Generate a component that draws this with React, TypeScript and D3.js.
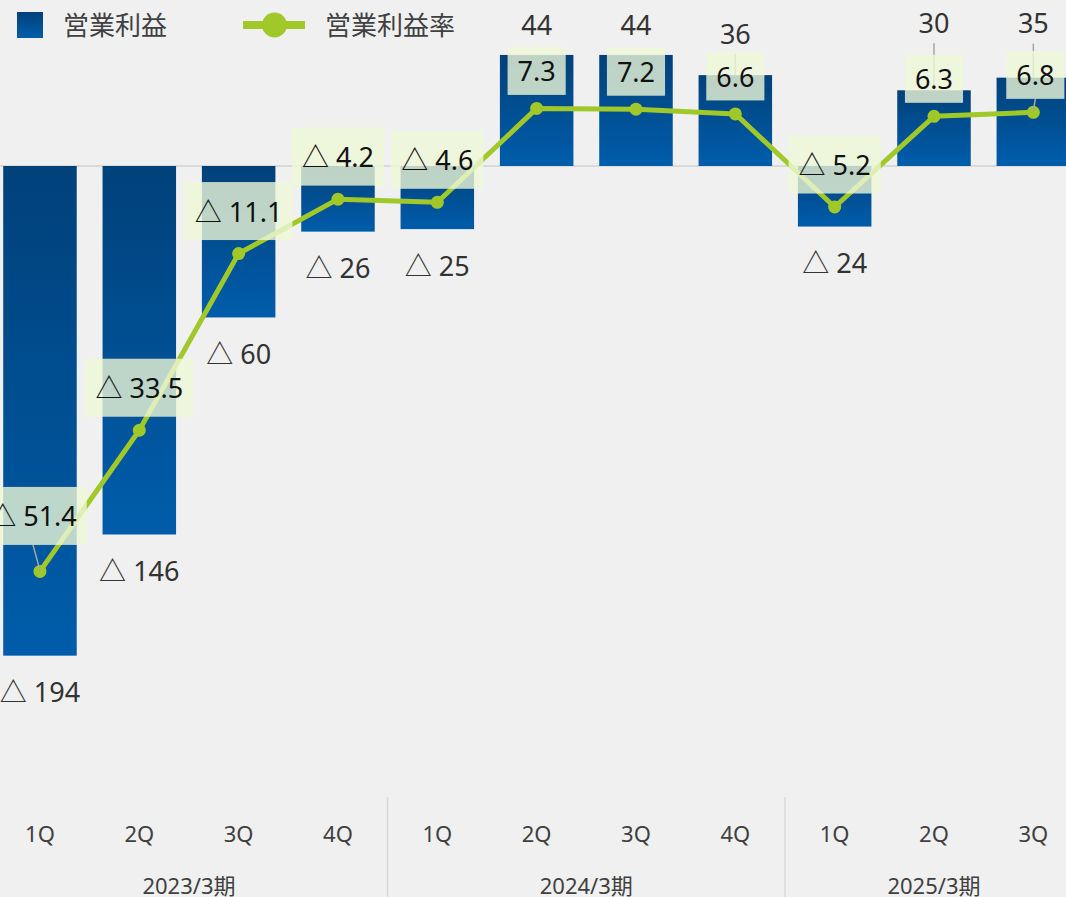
import React, { useEffect, useRef } from 'react';
import * as d3 from 'd3';

const quarters = ['1Q', '2Q', '3Q', '4Q', '1Q', '2Q', '3Q', '4Q', '1Q', '2Q', '3Q'];
const fiscalYears = ['2023/3期', '2024/3期', '2025/3期'];
const yearOfQuarter = [0, 0, 0, 0, 1, 1, 1, 1, 2, 2, 2];
const operatingProfit = [-194, -146, -60, -26, -25, 44, 44, 36, -24, 30, 35];
const operatingMargin = [-51.4, -33.5, -11.1, -4.2, -4.6, 7.3, 7.2, 6.6, -5.2, 6.3, 6.8];
const legendLabels = ['営業利益', '営業利益率'];

// extra lift (px) for profit labels that were pushed up to clear the margin labels
const profitLabelLift = [0, 0, 0, 0, 0, 0, 0, 12, 0, 38, 25];
// nudges (px) for margin labels moved off their default spot
const marginLabelNudge: [number, number][] = [
  [-7, -13], [0, 0], [0, 0], [0, 0], [0, 0], [0, 0], [0, 0], [0, 0], [0, 0], [0, 0], [2, 0],
];

const W = 1066;
const H = 897;
const FONT = "'Noto Sans', 'Noto Sans CJK JP', sans-serif";
const LIME = '#a0c828';

const fmt = (v: number, digits = 0) =>
  v < 0 ? `△ ${Math.abs(v).toFixed(digits)}` : v.toFixed(digits);

export default function App() {
  const ref = useRef<SVGSVGElement>(null);

  useEffect(() => {
    if (!ref.current) return;
    const svg = d3.select(ref.current);
    svg.selectAll('*').remove();

    const idx = d3.range(quarters.length);
    const x = d3.scaleBand<number>()
      .domain(idx)
      .range([-9.7, 1083])
      .paddingInner(0.26)
      .paddingOuter(0.13);
    const cx = (i: number) => (x(i) as number) + x.bandwidth() / 2;

    const plotBottom = 797;
    const yBar = d3.scaleLinear().domain([-250, 50]).range([plotBottom, plotBottom - 300 * 2.524]);
    const yRate = d3.scaleLinear().domain([-80, 20]).range([plotBottom, plotBottom - 100 * 7.8875]);

    const defs = svg.append('defs');
    const grad = defs.append('linearGradient')
      .attr('id', 'barGrad')
      .attr('x1', 0).attr('y1', 0).attr('x2', 0).attr('y2', 1);
    grad.append('stop').attr('offset', '0%').attr('stop-color', '#00417a');
    grad.append('stop').attr('offset', '100%').attr('stop-color', '#005dab');

    svg.append('rect').attr('width', W).attr('height', H).attr('fill', '#f0f0f0');

    // zero line
    svg.append('line')
      .attr('x1', 0).attr('x2', W)
      .attr('y1', yBar(0)).attr('y2', yBar(0))
      .attr('stroke', '#d9d9d9').attr('stroke-width', 2);

    // bars
    svg.selectAll('.bar')
      .data(operatingProfit)
      .enter().append('rect')
      .attr('class', 'bar')
      .attr('x', (d, i) => x(i) as number)
      .attr('width', x.bandwidth())
      .attr('y', d => yBar(Math.max(0, d)))
      .attr('height', d => Math.abs(yBar(d) - yBar(0)))
      .attr('fill', 'url(#barGrad)');

    // profit labels + leader lines
    const profitLabelY = (d: number, i: number) =>
      d < 0 ? yBar(d) + 36 : yBar(d) - 30 - profitLabelLift[i];

    svg.selectAll('.pleader')
      .data(operatingProfit.map((d, i) => ({ d, i })).filter(o => profitLabelLift[o.i] > 0))
      .enter().append('line')
      .attr('x1', o => cx(o.i)).attr('x2', o => cx(o.i))
      .attr('y1', o => profitLabelY(o.d, o.i) + 21)
      .attr('y2', o => yBar(o.d))
      .attr('stroke', '#a6a6a6').attr('stroke-width', 1.5);

    svg.selectAll('.plabel')
      .data(operatingProfit)
      .enter().append('text')
      .attr('x', (d, i) => cx(i))
      .attr('y', (d, i) => profitLabelY(d, i))
      .attr('text-anchor', 'middle')
      .attr('dominant-baseline', 'central')
      .attr('font-family', FONT)
      .attr('font-size', 27)
      .attr('fill', '#333')
      .text(d => fmt(d));

    // margin line
    const line = d3.line<number>()
      .x((d, i) => cx(i))
      .y(d => yRate(d));
    svg.append('path')
      .datum(operatingMargin)
      .attr('d', line)
      .attr('fill', 'none')
      .attr('stroke', LIME)
      .attr('stroke-width', 5)
      .attr('stroke-linejoin', 'round');

    svg.selectAll('.dot')
      .data(operatingMargin)
      .enter().append('circle')
      .attr('cx', (d, i) => cx(i))
      .attr('cy', d => yRate(d))
      .attr('r', 6.5)
      .attr('fill', LIME);

    // margin labels
    const boxes = operatingMargin.map((d, i) => {
      const h = d < 0 ? 58 : 48;
      const [dx, dy] = marginLabelNudge[i];
      return {
        d, i, h,
        x: cx(i) + dx,
        y: yRate(d) - 13.5 - h / 2 + dy,
      };
    });

    // leader lines for nudged margin labels
    boxes.filter(b => b.i === 0 || b.i === 10).forEach(b => {
      svg.append('line')
        .attr('x1', b.x).attr('y1', b.y + b.h / 2)
        .attr('x2', cx(b.i)).attr('y2', yRate(b.d) - 1)
        .attr('stroke', '#a6a6a6').attr('stroke-width', 1.5);
    });

    const mg = svg.selectAll('.mlabel')
      .data(boxes)
      .enter().append('g')
      .attr('class', 'mlabel');

    mg.append('rect')
      .attr('fill', 'rgb(238,247,215)')
      .attr('opacity', 0.8);

    const texts = mg.append('text')
      .attr('x', b => b.x)
      .attr('y', b => b.y)
      .attr('text-anchor', 'middle')
      .attr('dominant-baseline', 'central')
      .attr('font-family', FONT)
      .attr('font-size', 27)
      .attr('fill', '#111')
      .text(b => fmt(b.d, 1));

    texts.each(function (b) {
      const w = (this as SVGTextElement).getComputedTextLength() + 20;
      d3.select((this as SVGTextElement).previousSibling as SVGRectElement)
        .attr('x', b.x - w / 2)
        .attr('y', b.y - b.h / 2)
        .attr('width', w)
        .attr('height', b.h);
    });

    // x axis: quarters
    svg.selectAll('.qlabel')
      .data(quarters)
      .enter().append('text')
      .attr('x', (d, i) => cx(i))
      .attr('y', 833)
      .attr('text-anchor', 'middle')
      .attr('dominant-baseline', 'central')
      .attr('font-family', FONT)
      .attr('font-size', 22)
      .attr('fill', '#404040')
      .text(d => d);

    // fiscal year groups
    const groups = fiscalYears.map((label, g) => {
      const members = idx.filter(i => yearOfQuarter[i] === g);
      return {
        label,
        start: (x(members[0]) as number) - x.step() * 0.13,
        mid: (cx(members[0]) + cx(members[members.length - 1])) / 2,
      };
    });

    svg.selectAll('.sep')
      .data(groups.slice(1))
      .enter().append('line')
      .attr('x1', g => g.start).attr('x2', g => g.start)
      .attr('y1', plotBottom).attr('y2', H)
      .attr('stroke', '#d9d9d9').attr('stroke-width', 1.5);

    svg.selectAll('.ylabel')
      .data(groups)
      .enter().append('text')
      .attr('x', g => g.mid)
      .attr('y', 885)
      .attr('text-anchor', 'middle')
      .attr('dominant-baseline', 'central')
      .attr('font-family', FONT)
      .attr('font-size', 22)
      .attr('fill', '#404040')
      .text(g => g.label);

    // legend
    const lg = svg.append('g');
    lg.append('rect')
      .attr('x', 17).attr('y', 12).attr('width', 26).attr('height', 26)
      .attr('fill', 'url(#barGrad)');
    lg.append('text')
      .attr('x', 63).attr('y', 25)
      .attr('dominant-baseline', 'central')
      .attr('font-family', FONT).attr('font-size', 26).attr('fill', '#404040')
      .text(legendLabels[0]);
    lg.append('line')
      .attr('x1', 243).attr('x2', 305).attr('y1', 25).attr('y2', 25)
      .attr('stroke', LIME).attr('stroke-width', 8);
    lg.append('circle')
      .attr('cx', 274.5).attr('cy', 25).attr('r', 12.5).attr('fill', LIME);
    lg.append('text')
      .attr('x', 325).attr('y', 25)
      .attr('dominant-baseline', 'central')
      .attr('font-family', FONT).attr('font-size', 26).attr('fill', '#404040')
      .text(legendLabels[1]);
  }, []);

  return (
    <div style={{ position: 'absolute', left: 0, top: 0, width: W, height: H, overflow: 'hidden' }}>
      <svg ref={ref} width={W} height={H} style={{ display: 'block' }} />
    </div>
  );
}
